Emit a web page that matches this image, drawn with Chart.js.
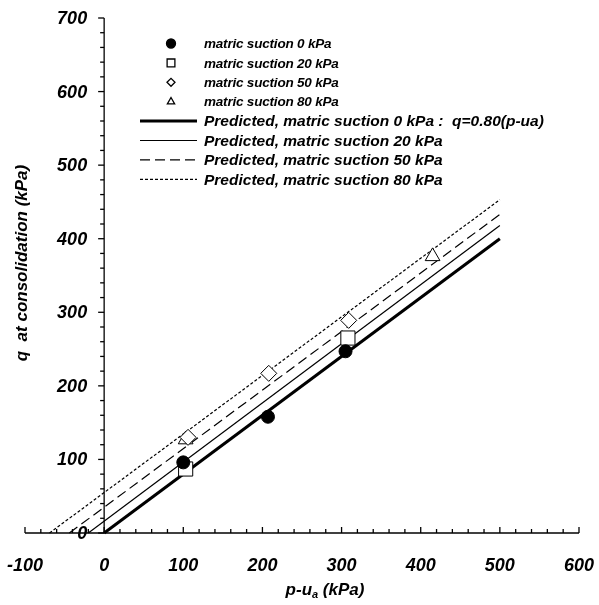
<!DOCTYPE html>
<html>

<head>
  <meta charset="utf-8">
  <title>q at consolidation</title>
  <script src="https://cdn.jsdelivr.net/npm/chart.js@4.4.0/dist/chart.umd.min.js"></script>
  <style>
    body { margin: 0; background: #fff; }
    #wrap { width: 599px; height: 605px; }
  </style>
</head>

<body>
  <div id="wrap">
    <canvas id="myChart" width="599" height="605"></canvas>
  </div>

  <script>
    // measured points (p-ua, q) in kPa
    var suction0 = [[100, 96], [207, 158], [305, 247]];
    var suction20 = [[103, 87], [308, 265]];
    var suction50 = [[106, 130], [208, 217], [309, 289]];
    var suction80 = [[103, 127], [415, 376]];

    // predicted lines, start and end point
    var pred0 = [[0, 0], [500, 400]];
    var pred20 = [[-20, 0], [500, 418]];
    var pred50 = [[-44, 0], [500, 433]];
    var pred80 = [[-69, 0], [500, 453]];

    var seriesLabels = [
      'matric suction 0 kPa',
      'matric suction 20 kPa',
      'matric suction 50 kPa',
      'matric suction 80 kPa',
      'Predicted, matric suction 0 kPa :  q=0.80(p-ua)',
      'Predicted, matric suction 20 kPa',
      'Predicted, matric suction 50 kPa',
      'Predicted, matric suction 80 kPa'
    ];

    var xTickLabels = ['-100', '0', '100', '200', '300', '400', '500', '600'];
    var yTickLabels = ['0', '100', '200', '300', '400', '500', '600', '700'];
    var minorStep = 20;

    var FONT = '"Liberation Sans", Arial, sans-serif';

    function pts(arr) {
      return arr.map(function (p) { return { x: p[0], y: p[1] }; });
    }

    function scatterSet(label, data, style, radius, fill, legendRadius) {
      return {
        type: 'scatter',
        label: label,
        data: pts(data),
        pointStyle: style,
        pointRadius: radius,
        pointHoverRadius: radius,
        pointBorderWidth: 1,
        pointBorderColor: '#000',
        pointBackgroundColor: fill,
        legendRadius: legendRadius,
        clip: false
      };
    }

    function lineSet(label, data, width, dash) {
      return {
        type: 'line',
        label: label,
        data: pts(data),
        borderColor: '#000',
        borderWidth: width,
        borderDash: dash,
        pointRadius: 0,
        fill: false,
        tension: 0,
        clip: false
      };
    }

    // axes, ticks, titles and legend drawn by hand, positions from the scales
    var axesPlugin = {
      id: 'axesPlugin',
      afterDatasetsDraw: function (chart) {
        var ctx = chart.ctx;
        var xs = chart.scales.x;
        var ys = chart.scales.y;
        var x0 = xs.getPixelForValue(0);
        var y0 = ys.getPixelForValue(0);
        var xMin = Number(xTickLabels[0]), xMax = Number(xTickLabels[xTickLabels.length - 1]);
        var yMin = Number(yTickLabels[0]), yMax = Number(yTickLabels[yTickLabels.length - 1]);

        ctx.save();
        ctx.strokeStyle = '#000';
        ctx.fillStyle = '#000';
        ctx.lineWidth = 1.3;

        // x axis line at q = 0
        ctx.beginPath();
        ctx.moveTo(xs.getPixelForValue(xMin), y0);
        ctx.lineTo(xs.getPixelForValue(xMax), y0);
        ctx.stroke();
        // y axis line at p-ua = 0
        ctx.beginPath();
        ctx.moveTo(x0, ys.getPixelForValue(yMin));
        ctx.lineTo(x0, ys.getPixelForValue(yMax));
        ctx.stroke();

        // x ticks point up
        for (var v = xMin; v <= xMax; v += minorStep) {
          var px = xs.getPixelForValue(v);
          var len = (v % 100 === 0) ? 6 : 4;
          ctx.beginPath();
          ctx.moveTo(px, y0);
          ctx.lineTo(px, y0 - len);
          ctx.stroke();
        }
        // y ticks point left
        for (var w = yMin; w <= yMax; w += minorStep) {
          var py = ys.getPixelForValue(w);
          var l2 = (w % 100 === 0) ? 6 : 4;
          ctx.beginPath();
          ctx.moveTo(x0, py);
          ctx.lineTo(x0 - l2, py);
          ctx.stroke();
        }

        // tick labels
        ctx.font = 'italic bold 18px ' + FONT;
        ctx.textAlign = 'center';
        ctx.textBaseline = 'middle';
        xTickLabels.forEach(function (t) {
          ctx.fillText(t, xs.getPixelForValue(Number(t)), y0 + 33);
        });
        ctx.textAlign = 'right';
        yTickLabels.forEach(function (t) {
          ctx.fillText(t, x0 - 17, ys.getPixelForValue(Number(t)) + 1);
        });

        // y title
        ctx.save();
        ctx.translate(22, 263);
        ctx.rotate(-Math.PI / 2);
        ctx.textAlign = 'center';
        ctx.textBaseline = 'middle';
        ctx.font = 'italic bold 17px ' + FONT;
        ctx.fillText('q  at consolidation (kPa)', 0, 0);
        ctx.restore();

        // x title with subscript a
        var big = 'italic bold 17px ' + FONT;
        var small = 'italic bold 11px ' + FONT;
        ctx.textAlign = 'left';
        ctx.textBaseline = 'alphabetic';
        ctx.font = big;
        var w1 = ctx.measureText('p-u').width;
        var w3 = ctx.measureText(' (kPa)').width;
        ctx.font = small;
        var w2 = ctx.measureText('a').width;
        var start = 325 - (w1 + w2 + w3) / 2;
        var base = 595;
        ctx.font = big;
        ctx.fillText('p-u', start, base);
        ctx.font = small;
        ctx.fillText('a', start + w1, base + 3);
        ctx.font = big;
        ctx.fillText(' (kPa)', start + w1 + w2, base);

        // legend
        var rowY = 43.5, rowH = 19.4;
        var markX = 171, lineX1 = 140, lineX2 = 197, textX = 204;
        ctx.textBaseline = 'middle';
        chart.data.datasets.forEach(function (ds, i) {
          var y = rowY + i * rowH;
          ctx.strokeStyle = '#000';
          ctx.fillStyle = '#000';
          if (ds.type === 'scatter') {
            ctx.fillStyle = ds.pointBackgroundColor;
            ctx.lineWidth = 1.3;
            Chart.helpers.drawPoint(ctx, {
              pointStyle: ds.pointStyle,
              radius: ds.legendRadius,
              borderWidth: 1.3,
              rotation: 0
            }, markX, y);
            ctx.fillStyle = '#000';
            ctx.font = 'italic bold 13.5px ' + FONT;
            ctx.letterSpacing = '-0.2px';
          } else {
            ctx.lineWidth = ds.borderWidth;
            ctx.setLineDash(ds.borderDash || []);
            ctx.beginPath();
            ctx.moveTo(lineX1, y);
            ctx.lineTo(lineX2, y);
            ctx.stroke();
            ctx.setLineDash([]);
            ctx.font = 'italic bold 15.5px ' + FONT;
            ctx.letterSpacing = '0px';
          }
          ctx.fillText(ds.label, textX, y + 1);
        });
        ctx.restore();
      }
    };

    var ctx = document.getElementById('myChart').getContext('2d');
    var myChart = new Chart(ctx, {
      data: {
        datasets: [
          scatterSet(seriesLabels[0], suction0, 'circle', 6.5, '#000', 4.5),
          scatterSet(seriesLabels[1], suction20, 'rect', 10, '#fff', 5.5),
          scatterSet(seriesLabels[2], suction50, 'rectRot', 8, '#fff', 4),
          scatterSet(seriesLabels[3], suction80, 'triangle', 8.5, '#fff', 4.2),
          lineSet(seriesLabels[4], pred0, 3, []),
          lineSet(seriesLabels[5], pred20, 1.2, []),
          lineSet(seriesLabels[6], pred50, 1.2, [10, 5]),
          lineSet(seriesLabels[7], pred80, 1.2, [3, 2])
        ]
      },
      options: {
        responsive: false,
        animation: false,
        layout: { padding: { left: 25, right: 20, top: 18, bottom: 72 } },
        scales: {
          x: { type: 'linear', min: -100, max: 600, display: false },
          y: { type: 'linear', min: 0, max: 700, display: false }
        },
        plugins: {
          legend: { display: false },
          tooltip: { enabled: false }
        }
      },
      plugins: [axesPlugin]
    });
  </script>
</body>

</html>
